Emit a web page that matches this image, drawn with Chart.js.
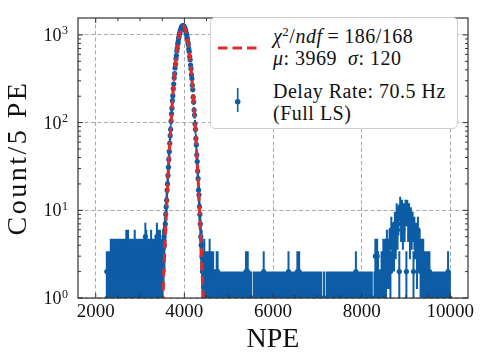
<!DOCTYPE html>
<html>
<head>
<meta charset="utf-8">
<script src="https://cdn.jsdelivr.net/npm/chart.js@4.4.1/dist/chart.umd.min.js"></script>
<style>
  html, body { margin: 0; padding: 0; background: #fff; }
  #wrap { position: relative; width: 483px; height: 361px; }
  #legend {
    position: absolute; left: 210px; top: 17px; width: 248px; height: 112px;
    box-sizing: border-box; border: 1px solid #cfcfcf; border-radius: 5px; background: #fff;
    font-family: "Liberation Serif", serif; font-size: 20px; line-height: 22px; color: #111;
    letter-spacing: 0.5px;
  }
  #legend .txt { position: absolute; left: 62px; white-space: nowrap; }
  #legend sup { font-size: 13px; line-height: 0; vertical-align: 7px; }
  #legend .op { margin: 0 5px; }
  #legend svg { position: absolute; left: 0; top: 0; }
</style>
</head>
<body>
<div id="wrap">
  <canvas id="c" width="483" height="361"></canvas>
  <div id="legend">
    <svg width="248" height="112">
      <line x1="7" y1="30" x2="47" y2="30" stroke="#dd2c2c" stroke-width="3" stroke-dasharray="9.5 5"/>
      <line x1="26.7" y1="70" x2="26.7" y2="94" stroke="#0C5DA5" stroke-width="1.6"/>
      <circle cx="26.7" cy="83.7" r="2.8" fill="#0C5DA5"/>
    </svg>
    <div class="txt" style="top:7px"><i>χ</i><sup>2</sup>/<i>ndf</i><span class="op">=</span>186/168<br><i>μ</i>: 3969&nbsp;&nbsp;<i>σ</i>: 120</div>
    <div class="txt" style="top:62px">Delay Rate: 70.5 Hz<br>(Full LS)</div>
  </div>
</div>
<script>
// histogram counts per bin (NPE bin centre = start + i*step)
const leftStart = 2250, leftStep = 10;
const leftCounts = [2,1,2,2,1,2,1,2,2,
  3,2,1,3,2,2,3,1,2, 3,2,2,3,1,3,2,2,3, 2,1,3,2,3,2,1,2,3, 2,2,3,1,2,3,2,2,
  4,2,3,1,4,2,3,2,
  3,2,1,3,2,3,2,1,3,2,2,
  4,2,3,2,
  3,1,2,3,2,2,3,2,1,3,2,3,2,1,3,2,2,3,1,2,
  5,2,4,2,
  3,2,2,3,1,3,2,3,2,4,2,3,1,3,2,2,3,2,3,1,2,3,
  5,2,3,4,2,
  3,2,4,3,2,3,2];

const peakStart = 3500, peakStep = 10;
const peakCounts = [3,2,4,3,5,4,6,7,9,11,
  13,17,20,25,31,38,47,58,71,84,
  104,126,146,178,203,244,275,325,362,421,
  466,534,581,655,706,784,833,912,958,1030,
  1068,1131,1160,1212,1226,1262,1258,1280,1257,1259,
  1219,1205,1151,1124,1058,1019,945,898,820,771,
  693,644,568,522,453,412,352,318,266,238,
  195,172,139,122,97,84,66,56,43,36,
  28,23,17,15,11,9,7,5,4,4,
  3,2,2,1,2];

const flatStart = 4450, flatStep = 20;
const flatCounts = [3,2,2,1,2,1,3,2,1,2,
  2,1,1,1,2,2,1,1,1,1,
  1,1,0,1,1,1,1,1,0,1,
  1,1,1,1,1,0,1,1,1,1,
  1,1,0,1,1,1,1,2,1,2,
  1,1,1,1,0,0,1,1,1,1,
  1,1,1,1,1,0,1,2,1,1,
  0,1,1,1,1,1,1,1,1,1,
  0,1,1,1,1,1,1,1,1,0,
  1,1,1,1,1,2,1,1,1,0,
  1,1,1,1,1,2,1,2,1,1,
  1,1,0,1,1,1,1,1,1,1,
  1,0,1,1,1,1,1,1,1,1,
  1,0,1,0,0,1,0,0,1,1,
  1,1,1,1,1,1,1,0,1,1,
  1,1,1,1,1,0,1,1,1,1,
  1,1,1,1,1,1,0,1,1,1,
  1,2,1,1,1,1,1,0,1,1,
  1,1,1,1,1,1,1,1,1,1,
  0,0,1];

const bumpStart = 8310, bumpStep = 20;
const bumpCounts = [3,1,3,2,1,1,1,2,1,3,
  2,3,2,4,3,3,4,2,6,4,
  5,4,7,5,9,6,8,2,11,7,
  10,6,9,7,10,2,10,7,9,5,
  8,6,7,2,6,5,5,3,6,4,
  4,2,3,2,3,1,2,2,1,2,
  1,2,1,1,1,0,1,1,1,1,
  1,0,1,1,1,1,1,1,1,1,
  1,1,2,1,1];

// gaussian fit curve
const fitNPE = [3510,3525,3550,3575,3600,3625,3650,3675,3700,3725,3750,3775,3800,3825,3850,3875,3900,3925,3950,3975,
  4000,4025,4050,4075,4100,4125,4150,4175,4200,4225,4250,4275,4300,4325,4350,4375,4400,4425];
const fitCount = [0.84,1.35,2.86,5.79,11.2,20.9,37.1,63.2,103,161,240,344,471,618,777,934,1076,1187,1254,1268,
  1228,1139,1011,860,700,546,407,291,199,130,81.9,49.2,28.3,15.6,8.22,4.15,2.01,0.93];

const xTicks = [2000, 4000, 6000, 8000, 10000];
const xTickLabels = ['2000', '4000', '6000', '8000', '10000'];
const yTicks = [1, 10, 100, 1000];
const yTickExp = ['0', '1', '2', '3'];
const yTitle = 'Count/5 PE';

const blue = '#0C5DA5', red = '#dd2c2c', ink = '#111';
const xMin = 1600, xMax = 10400, yMin = 1, yMax = 1560;
const serif = 'Liberation Serif';

function bins(start, step, counts) {
  return counts.map((n, i) => ({ x: start + i * step, y: n }));
}
const hist = [].concat(
  bins(leftStart, leftStep, leftCounts),
  bins(peakStart, peakStep, peakCounts),
  bins(flatStart, flatStep, flatCounts),
  bins(bumpStart, bumpStep, bumpCounts)
).filter(p => p.y > 0);
const fitPts = fitNPE.map((x, i) => ({ x: x, y: fitCount[i] }));

// sqrt(N) error bars, drawn under the markers
const errorBars = {
  id: 'errorBars',
  beforeDatasetsDraw(chart) {
    const { ctx, chartArea: a, scales: { x, y } } = chart;
    ctx.save();
    ctx.beginPath();
    ctx.rect(a.left, a.top, a.right - a.left, a.bottom - a.top);
    ctx.clip();
    ctx.strokeStyle = blue;
    ctx.lineWidth = 2;
    ctx.beginPath();
    hist.forEach(p => {
      const e = Math.sqrt(p.y);
      const px = x.getPixelForValue(p.x);
      const lo = p.y - e > 0 ? y.getPixelForValue(p.y - e) : a.bottom;
      ctx.moveTo(px, lo);
      ctx.lineTo(px, y.getPixelForValue(p.y + e));
    });
    ctx.stroke();
    ctx.restore();
  }
};

// box frame, inward ticks on all sides, 10^n labels, y title
const frame = {
  id: 'frame',
  afterDraw(chart) {
    const { ctx, chartArea: a, scales: { x, y } } = chart;
    ctx.save();
    ctx.strokeStyle = '#333';
    ctx.lineWidth = 1.2;
    ctx.strokeRect(a.left, a.top, a.right - a.left, a.bottom - a.top);
    ctx.lineWidth = 1;
    ctx.beginPath();
    for (let v = xTicks[0]; v <= xMax; v += 500) {
      const px = x.getPixelForValue(v);
      const len = xTicks.includes(v) ? 5 : 3;
      ctx.moveTo(px, a.bottom); ctx.lineTo(px, a.bottom - len);
      ctx.moveTo(px, a.top); ctx.lineTo(px, a.top + len);
    }
    for (let d = 1; d < yMax; d *= 10) {
      for (let k = 1; k < 10; k++) {
        const v = d * k;
        if (v > yMax) break;
        const py = y.getPixelForValue(v);
        const len = k === 1 ? 5 : 3;
        ctx.moveTo(a.left, py); ctx.lineTo(a.left + len, py);
        ctx.moveTo(a.right, py); ctx.lineTo(a.right - len, py);
      }
    }
    ctx.stroke();

    ctx.fillStyle = ink;
    ctx.textAlign = 'right';
    ctx.textBaseline = 'alphabetic';
    yTicks.forEach((v, i) => {
      const py = y.getPixelForValue(v);
      const right = a.left - 10;
      ctx.font = '12px "' + serif + '"';
      const ew = ctx.measureText(yTickExp[i]).width;
      ctx.fillText(yTickExp[i], right, py - 0.5);
      ctx.font = '18px "' + serif + '"';
      ctx.fillText('10', right - ew - 0.5, py + 6);
    });

    // y title, letter-spaced to match the wider original face
    ctx.translate(26, (a.top + a.bottom) / 2);
    ctx.rotate(-Math.PI / 2);
    ctx.font = '28px "' + serif + '"';
    ctx.letterSpacing = '2.5px';
    ctx.textAlign = 'center';
    ctx.textBaseline = 'alphabetic';
    ctx.fillText(yTitle, 0, 0);
    ctx.restore();
  }
};

const gridStyle = { color: '#a0a0a0', lineWidth: 0.9, drawTicks: false };
const borderStyle = { display: false, dash: [4, 2.5] };

new Chart(document.getElementById('c'), {
  type: 'scatter',
  data: {
    datasets: [
      {
        data: fitPts, showLine: true, borderColor: red, borderWidth: 3, borderDash: [9, 5],
        pointRadius: 0, tension: 0, clip: 0
      },
      {
        data: hist, backgroundColor: blue, borderWidth: 0, pointRadius: 2.6, clip: 0
      }
    ]
  },
  options: {
    responsive: false,
    animation: false,
    devicePixelRatio: 1,
    layout: { padding: { left: 0, right: 15, top: 18, bottom: 0 } },
    plugins: { legend: { display: false }, tooltip: { enabled: false } },
    scales: {
      x: {
        type: 'linear', min: xMin, max: xMax,
        afterBuildTicks: s => { s.ticks = xTicks.map(v => ({ value: v })); },
        afterFit: s => { s.height = 63; s.paddingLeft = 0; s.paddingRight = 0; },
        grid: gridStyle,
        border: borderStyle,
        ticks: {
          color: ink, padding: 3, maxRotation: 0, autoSkip: false,
          font: { family: serif, size: 19 },
          callback: (v, i) => xTickLabels[i]
        },
        title: {
          display: true, text: 'NPE', color: ink,
          font: { family: serif, size: 28 }, padding: { top: 0, bottom: 5 }
        }
      },
      y: {
        type: 'logarithmic', min: yMin, max: yMax,
        afterBuildTicks: s => { s.ticks = yTicks.map(v => ({ value: v })); },
        afterFit: s => { s.width = 78; s.paddingTop = 0; s.paddingBottom = 0; },
        grid: gridStyle,
        border: borderStyle,
        ticks: { display: false },
        title: { display: false }
      }
    }
  },
  plugins: [errorBars, frame]
});
</script>
</body>
</html>
